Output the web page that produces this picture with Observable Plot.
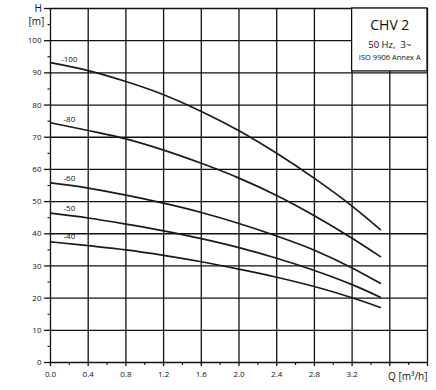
<!DOCTYPE html>
<html>
<head>
<meta charset="utf-8">
<script src="https://cdn.jsdelivr.net/npm/d3@7"></script>
<script src="https://cdn.jsdelivr.net/npm/@observablehq/plot@0.6"></script>
<style>
  html, body { margin: 0; padding: 0; background: #fff; }
  #chart svg { display: block; }
</style>
</head>
<body>
<div id="chart"></div>
<script>
// Flow Q [m³/h] sample positions
const flow = [0, 0.4, 0.8, 1.2, 1.6, 2.0, 2.4, 2.8, 3.2, 3.5];
// Head H [m] per curve
const series = ["-100", "-80", "-60", "-50", "-40"];
const head100 = [93.2, 90.7, 87.3, 83.2, 78.0, 72.0, 65.0, 57.2, 48.6, 41.3];
const head80  = [74.5, 72.1, 69.5, 66.0, 61.9, 57.3, 51.9, 45.6, 38.6, 32.9];
const head60  = [55.8, 54.2, 52.0, 49.5, 46.6, 43.2, 39.3, 34.9, 29.4, 24.6];
const head50  = [46.4, 44.9, 43.0, 40.9, 38.5, 35.7, 32.4, 28.6, 24.2, 20.3];
const head40  = [37.5, 36.3, 35.0, 33.3, 31.3, 29.0, 26.5, 23.6, 20.1, 17.1];
const heads = [head100, head80, head60, head50, head40];

// Tick values
const qLabelTicks = [0, 0.4, 0.8, 1.2, 1.6, 2.0, 2.4, 2.8, 3.2];
const qOtherTicks = [3.6, 4.0];
const qMinorTicks = [0.2, 0.6, 1.0, 1.4, 1.8, 2.2, 2.6, 3.0, 3.4, 3.8];
const qGrid = [0.4, 0.8, 1.2, 1.6, 2.0, 2.4, 2.8, 3.2, 3.6, 4.0];
const hLabelTicks = [0, 10, 20, 30, 40, 50, 60, 70, 80, 90, 100];
const hOtherTicks = [110];
const hMinorTicks = [5, 15, 25, 35, 45, 55, 65, 75, 85, 95, 105];
const hGrid = [10, 20, 30, 40, 50, 60, 70, 80, 90, 100, 110];

// Title box text
const boxLines = ["CHV 2", "50 Hz,  3~", "ISO 9906 Annex A"];
const boxRange = {q1: 3.2, q2: 4.0, h1: 90.45, h2: 110};

const rows = [];
series.forEach((s, i) => flow.forEach((q, j) => rows.push({series: s, q, h: heads[i][j]})));
const labelRows = series.map((s, i) => ({label: s, q: (flow[0] + flow[1]) / 2, h: (heads[i][0] + heads[i][1]) / 2}));

const ink = "#111";
const font = "'Open Sans', sans-serif";

const chart = Plot.plot({
  width: 436,
  height: 390,
  marginLeft: 50,
  marginRight: 9,
  marginTop: 8,
  marginBottom: 28,
  style: {fontFamily: font, background: "#fff", color: ink, overflow: "visible"},
  x: {domain: [0, 4]},
  y: {domain: [0, 110]},
  marks: [
    Plot.ruleX(qGrid, {stroke: ink, strokeWidth: 1.3}),
    Plot.ruleY(hGrid, {stroke: ink, strokeWidth: 1.3}),
    Plot.ruleX([0], {stroke: ink, strokeWidth: 1.3}),
    Plot.ruleY([0], {stroke: ink, strokeWidth: 1.3}),
    Plot.rect([boxRange], {x1: "q1", x2: "q2", y1: "h1", y2: "h2", fill: "#fff", stroke: ink, strokeWidth: 1.3}),
    Plot.axisY(hLabelTicks, {tickSize: 6, tickPadding: 3, fontSize: 8, stroke: ink, strokeWidth: 1.3, label: null, tickFormat: d => String(d)}),
    Plot.axisY(hOtherTicks, {tickSize: 6, stroke: ink, strokeWidth: 1.3, label: null, tickFormat: () => ""}),
    Plot.axisY(hMinorTicks, {tickSize: 2.5, stroke: ink, strokeWidth: 1.1, label: null, tickFormat: () => ""}),
    Plot.axisX(qLabelTicks, {tickSize: 4, tickPadding: 5, fontSize: 8, stroke: ink, strokeWidth: 1.3, label: null, tickFormat: d => d.toFixed(1)}),
    Plot.axisX(qOtherTicks, {tickSize: 4, stroke: ink, strokeWidth: 1.3, label: null, tickFormat: () => ""}),
    Plot.axisX(qMinorTicks, {tickSize: 3, stroke: ink, strokeWidth: 1.1, label: null, tickFormat: () => ""}),
    Plot.line(rows, {x: "q", y: "h", z: "series", curve: "monotone-x", stroke: "#1a1a1a", strokeWidth: 1.7}),
    Plot.text(labelRows, {x: "q", y: "h", text: "label", dy: -7.5, fontSize: 8, fill: ink}),
    Plot.text([boxLines[0]], {x: (boxRange.q1 + boxRange.q2) / 2, y: boxRange.h2, dy: 17, fontSize: 14, fill: ink}),
    Plot.text([boxLines[1]], {x: (boxRange.q1 + boxRange.q2) / 2, y: boxRange.h2, dy: 36, fontSize: 9.5, fill: ink}),
    Plot.text([boxLines[2]], {x: (boxRange.q1 + boxRange.q2) / 2, y: boxRange.h2, dy: 49, fontSize: 7.5, fill: ink}),
    Plot.text(["H"], {frameAnchor: "top-left", textAnchor: "middle", dx: -12.3, dy: 0.5, lineAnchor: "middle", fontSize: 10, fill: ink}),
    Plot.text(["[m]"], {frameAnchor: "top-left", textAnchor: "middle", dx: -14, dy: 13, lineAnchor: "middle", fontSize: 10, fill: ink}),
    Plot.text(["Q [m³/h]"], {frameAnchor: "bottom-right", textAnchor: "end", dy: 14.5, lineAnchor: "middle", fontSize: 10, fill: ink})
  ]
});
document.getElementById("chart").appendChild(chart);
</script>
</body>
</html>
